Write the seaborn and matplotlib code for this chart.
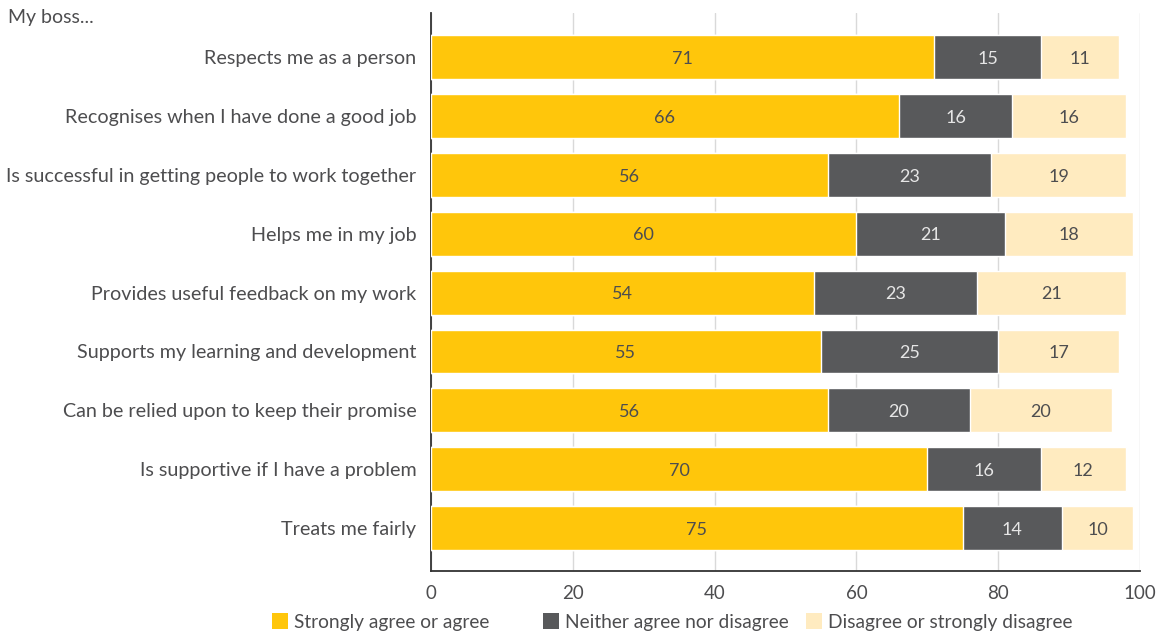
import matplotlib
matplotlib.use("Agg")
import matplotlib.pyplot as plt
from matplotlib.patches import Patch
import seaborn as sns
import pandas as pd

statements = [
    "Respects me as a person",
    "Recognises when I have done a good job",
    "Is successful in getting people to work together",
    "Helps me in my job",
    "Provides useful feedback on my work",
    "Supports my learning and development",
    "Can be relied upon to keep their promise",
    "Is supportive if I have a problem",
    "Treats me fairly",
]
agree = [71, 66, 56, 60, 54, 55, 56, 70, 75]
neither = [15, 16, 23, 21, 23, 25, 20, 16, 14]
disagree = [11, 16, 19, 18, 21, 17, 20, 12, 10]
series_names = ["Strongly agree or agree", "Neither agree nor disagree", "Disagree or strongly disagree"]

colors = ["#FFC60B", "#58595B", "#FFEBC0"]
text_col = "#4d4d4f"

sns.set_theme(style="white")
plt.rcParams["font.family"] = ["Lato", "DejaVu Sans"]

df = pd.DataFrame({"statement": statements, "agree": agree, "neither": neither, "disagree": disagree})
df["c1"] = df["agree"]
df["c2"] = df["agree"] + df["neither"]
df["c3"] = df["c2"] + df["disagree"]

fig = plt.figure(figsize=(11.68, 6.33), dpi=100)
ax = fig.add_axes([431 / 1168, 1 - 571 / 633, (1140 - 431) / 1168, (571 - 13) / 633])

# stacked bars: draw cumulative totals from the back to the front
for col, c in zip(["c3", "c2", "c1"], colors[::-1]):
    sns.barplot(data=df, y="statement", x=col, order=statements, color=c,
                width=0.745, saturation=1, ax=ax, orient="h", zorder=3)

ax.set_ylim(8.73, -0.75)
ax.set_xlim(0, 100)
ax.set_xticks([0, 20, 40, 60, 80, 100])
ax.xaxis.grid(True, color="#d9d9d9", linewidth=1.0, zorder=0)
ax.set_axisbelow(True)
ax.set_xlabel("")
ax.set_ylabel("")
for s in ["top", "right"]:
    ax.spines[s].set_visible(False)
for s in ["left", "bottom"]:
    ax.spines[s].set_color("#333333")
    ax.spines[s].set_linewidth(1.3)
ax.tick_params(axis="both", length=0, labelcolor=text_col)
ax.tick_params(axis="y", pad=10.5, labelsize=14.2)
ax.tick_params(axis="x", pad=10, labelsize=13.5)

# value labels centred in each segment
label_colors = [text_col, "#e6e6e6", text_col]
for i in range(len(statements)):
    starts = [0, df["c1"][i], df["c2"][i]]
    vals = [agree[i], neither[i], disagree[i]]
    for s0, v, lc in zip(starts, vals, label_colors):
        ax.text(s0 + v / 2, i + 0.03, f"{v}", ha="center", va="center",
                fontsize=13, color=lc, zorder=5)

fig.text(8 / 1168, 1 - 18 / 633, "My boss...", ha="left", va="center", fontsize=14, color=text_col)

# legend entries placed one by one along the bottom
legend_x = [272, 543, 806]
for name, c, lx in zip(series_names, colors, legend_x):
    fig.legend([Patch(facecolor=c, edgecolor="none")], [name], loc="center left",
               bbox_to_anchor=(lx / 1168, 1 - 622 / 633), frameon=False, fontsize=13.8,
               handlelength=0.85, handleheight=0.85, handletextpad=0.3,
               borderpad=0, borderaxespad=0, labelcolor=text_col)

fig.savefig("out.png", dpi=100)
